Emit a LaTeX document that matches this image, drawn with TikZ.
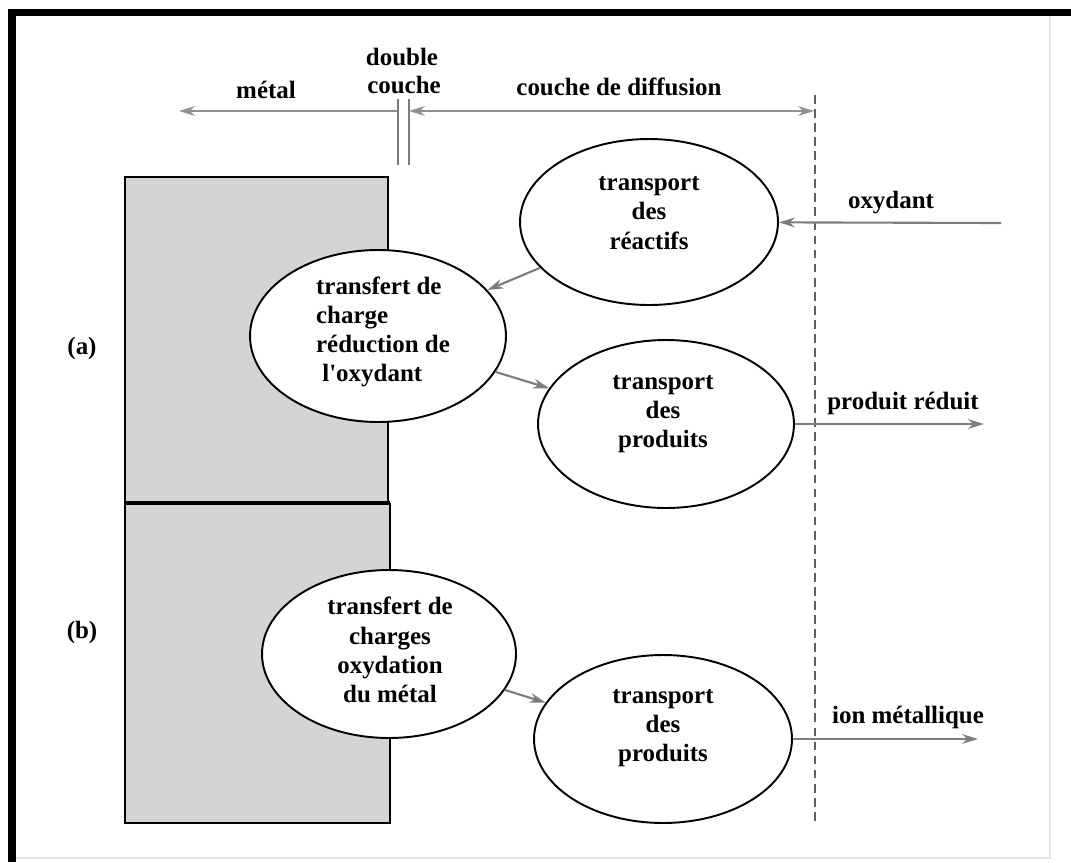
\documentclass[tikz,border=0pt]{standalone}
\usepackage{fontspec}
\setmainfont{Liberation Serif}
\usetikzlibrary{shapes.geometric,arrows.meta}
\definecolor{metalgray}{RGB}{212,212,212}
\definecolor{linegray}{RGB}{125,125,125}
\definecolor{dashgray}{RGB}{95,95,95}
\tikzset{
  >={Stealth[length=9pt,width=5.5pt,fill=dashgray]},
  ell/.style={ellipse,draw=black,line width=1.1pt,fill=white,inner sep=0pt},
  txt/.style={font=\fontsize{14.2}{16.6}\selectfont\bfseries,align=center,inner sep=0pt},
  lab/.style={font=\fontsize{14.2}{16.6}\selectfont\bfseries,inner sep=0pt},
  conn/.style={draw=linegray,line width=1.2pt,->},
  topline/.style={draw=linegray!85,line width=1.4pt}
}
\begin{document}
\begin{tikzpicture}[x=0.02cm,y=-0.02cm]
\useasboundingbox (0,0) rectangle (1071,862);
% frame
\fill[white] (0,0) rectangle (1071,862);
\draw[black!10,line width=0.6pt] (1050,16) -- (1050,858) -- (12,858);
\fill[black] (8,9) rectangle (1071,16);
\fill[black] (8,9) rectangle (16,862);

% top scale
\coordinate (ml) at (179,111);
\coordinate (mr) at (398,111);
\coordinate (dl) at (409,111);
\coordinate (dr) at (814,111);
\draw[topline,->] (mr) -- (ml);
\draw[topline,<->] (dl) -- (dr);
\coordinate (dc1t) at (398,99);
\coordinate (dc1b) at (398,165);
\coordinate (dc2t) at (409,99);
\coordinate (dc2b) at (409,165);
\draw[linegray,line width=1pt] (dc1t) -- (dc1b);
\draw[linegray,line width=1pt] (dc2t) -- (dc2b);
\node[lab] (metal) at (266,90) {métal};
\node[lab] (dbl1) at (402,57) {double};
\node[lab] (dbl2) at (404,85) {couche};
\node[lab] (diff) at (619,87) {couche de diffusion};

% dashed boundary
\coordinate (dbt) at (815,95);
\coordinate (dbb) at (815,823);
\draw[dashgray,line width=1.1pt,dash pattern=on 5pt off 3pt] (dbt) -- (dbb);

% metal blocks
\fill[metalgray] (125,177) rectangle (388,503);
\fill[metalgray] (125,503) rectangle (390,823);
\draw[black,line width=1.1pt] (125,503) -- (125,177) -- (388,177) -- (388,503);
\draw[black,line width=1.1pt] (125,503) -- (125,823) -- (390,823) -- (390,503);
\draw[black,line width=1.8pt] (125,503) -- (390,503);

\node[lab] (la) at (82,348) {(a)};
\node[lab] (lb) at (82,632) {(b)};

% ellipses
\node[ell,minimum width=5.16cm,minimum height=3.32cm] (e1) at (649,222) {};
\node[ell,minimum width=5.12cm,minimum height=3.36cm] (e2) at (666,424) {};
\node[ell,minimum width=5.12cm,minimum height=3.44cm] (e3) at (378,336) {};
\node[ell,minimum width=5.08cm,minimum height=3.36cm] (e4) at (389,654) {};
\node[ell,minimum width=5.16cm,minimum height=3.36cm] (e5) at (663,739) {};

\node[txt] (t1) at (649,213) {transport\\des\\réactifs};
\node[txt] (t2) at (663,414) {transport\\des\\produits};
\node[txt,align=left] (t3) at (383,332) {transfert de\\charge\\réduction de\\\ l\textquotesingle oxydant};
\node[txt] (t4) at (390,650) {transfert de\\charges\\oxydation\\du métal};
\node[txt] (t5) at (663,728) {transport\\des\\produits};

% connectors
\draw[conn] (e1) -- (e3);
\draw[conn] (e3) -- (e2);
\draw[conn] (e4) -- (e5);

\coordinate (oxs) at (1001,223);
\draw[conn] (oxs) -- (e1);
\node[lab] (ox) at (891,203) {oxydant};

\coordinate (pr) at (984,424);
\draw[conn] (e2.east) -- (pr);
\node[lab] (prl) at (903,403) {produit réduit};

\coordinate (ion) at (978,739);
\draw[conn] (e5.east) -- (ion);
\node[lab] (ionl) at (908,717) {ion métallique};
\end{tikzpicture}
\end{document}
